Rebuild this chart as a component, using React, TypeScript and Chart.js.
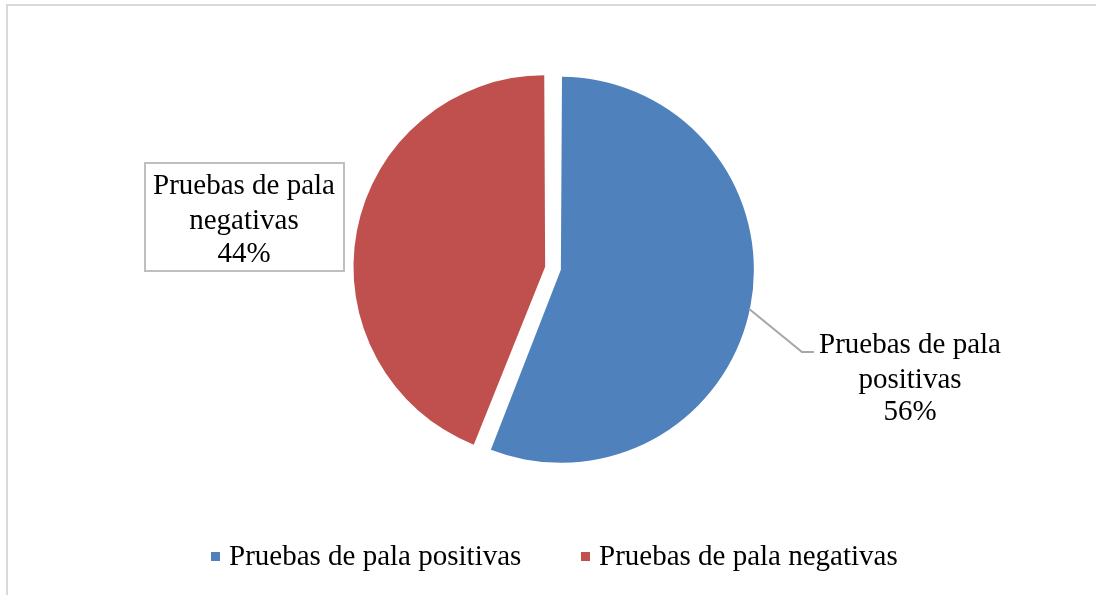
import React, { useEffect, useRef } from "react";
import { Chart, registerables } from "chart.js";

Chart.register(...registerables);

const categories = ["Pruebas de pala positivas", "Pruebas de pala negativas"];
const labelFirstLines = ["Pruebas de pala", "Pruebas de pala"];
const labelSecondLines = ["positivas", "negativas"];
const values = [56, 44];
const sliceColors = ["#4F81BD", "#C0504D"];
const sliceOffsets = [28, 36];

const FONT = '29px "Liberation Serif", "Times New Roman", serif';

const decorPlugin = {
  id: "decor",
  beforeDraw(chart: any) {
    const ctx = chart.ctx;
    ctx.save();
    ctx.fillStyle = "#ffffff";
    ctx.fillRect(0, 0, chart.width, chart.height);
    ctx.strokeStyle = "#d9d9d9";
    ctx.lineWidth = 2;
    ctx.strokeRect(7, 5, chart.width + 20, chart.height + 20);
    ctx.restore();
  },
  afterDraw(chart: any) {
    const ctx = chart.ctx;
    const total = values.reduce((a, b) => a + b, 0);
    const pct = values.map((v) => Math.round((v / total) * 100) + "%");
    ctx.save();
    ctx.font = FONT;
    ctx.fillStyle = "#000000";
    ctx.textAlign = "center";
    ctx.textBaseline = "alphabetic";

    // negative label box
    ctx.strokeStyle = "#bfbfbf";
    ctx.lineWidth = 2;
    ctx.strokeRect(145, 163, 199, 108);
    const redLines = [labelFirstLines[1], labelSecondLines[1], pct[1]];
    [194, 228.5, 262].forEach((y, i) => ctx.fillText(redLines[i], 244, y));

    // positive leader line from the arc
    const meta = chart.getDatasetMeta(0);
    const arc = meta.data[0] as any;
    const half = (arc.startAngle + arc.endAngle) / 2;
    const tr = sliceOffsets[0] / 4;
    const cx = arc.x + Math.cos(half) * tr;
    const cy = arc.y + Math.sin(half) * tr;
    const a = (11.7 * Math.PI) / 180;
    const r = arc.outerRadius + tr - 1;
    const sx = cx + Math.cos(a) * r;
    const sy = cy + Math.sin(a) * r;
    ctx.strokeStyle = "#a6a6a6";
    ctx.lineWidth = 2;
    ctx.beginPath();
    ctx.moveTo(sx, sy);
    ctx.lineTo(802, 352);
    ctx.lineTo(814, 352);
    ctx.stroke();
    const blueLines = [labelFirstLines[0], labelSecondLines[0], pct[0]];
    [353, 387.5, 420].forEach((y, i) => ctx.fillText(blueLines[i], 910, y));

    // legend
    ctx.textAlign = "left";
    const legendX = [[211, 229], [581, 599]];
    categories.forEach((c, i) => {
      ctx.fillStyle = sliceColors[i];
      ctx.fillRect(legendX[i][0], 552, 9, 9);
      ctx.fillStyle = "#000000";
      ctx.fillText(c, legendX[i][1], 565);
    });
    ctx.restore();
  },
};

export default function App() {
  const ref = useRef<HTMLCanvasElement | null>(null);
  useEffect(() => {
    if (!ref.current) return;
    const chart = new Chart(ref.current, {
      type: "pie",
      data: {
        labels: categories,
        datasets: [
          {
            data: values,
            backgroundColor: sliceColors,
            borderWidth: 0,
            offset: sliceOffsets,
          },
        ],
      },
      options: {
        responsive: false,
        animation: false,
        radius: 186,
        layout: { padding: { left: 12, right: 0, top: 0, bottom: 58 } },
        plugins: {
          legend: { display: false },
          tooltip: { enabled: false },
        },
      } as any,
      plugins: [decorPlugin],
    });
    return () => chart.destroy();
  }, []);
  return (
    <canvas
      ref={ref}
      width={1096}
      height={595}
      style={{ position: "fixed", left: 0, top: 0, width: 1096, height: 595 }}
    />
  );
}
